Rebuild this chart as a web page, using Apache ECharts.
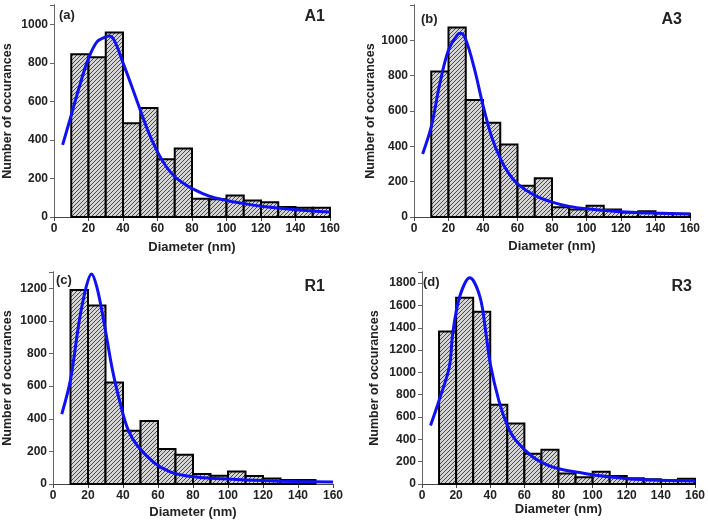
<!DOCTYPE html>
<html>
<head>
  <meta charset="UTF-8">
  <title>Diameter histograms</title>
  <script src="https://cdn.jsdelivr.net/npm/echarts@6/dist/echarts.min.js"></script>
  <style>
    body { margin: 0; padding: 0; background: #fff; }
    #main { width: 708px; height: 526px; }
  </style>
</head>
<body>
<div id="main"></div>
<script>
  // bins (left edge, nm), width 10 nm
  var binLeft = [10, 20, 30, 40, 50, 60, 70, 80, 90, 100, 110, 120, 130, 140, 150];
  var binWidth = 10;

  // counts per bin
  var countsA1 = [844, 829, 957, 486, 566, 299, 355, 95, 92, 112, 86, 76, 52, 48, 48];
  var countsA3 = [823, 1072, 662, 534, 411, 177, 219, 55, 43, 64, 43, 26, 32, 21, 19];
  var countsR1 = [1190, 1094, 623, 326, 387, 215, 180, 61, 51, 76, 49, 33, 25, 25, null];
  var countsR3 = [1367, 1669, 1543, 710, 543, 272, 307, 93, 60, 110, 72, 51, 42, 33, 48];

  // fitted curves (blue)
  var fitXA1 = [5, 10, 15, 20, 25, 30, 32, 35, 40, 45, 50, 55, 60, 65, 70, 75, 80, 90, 100, 110, 120, 140, 160];
  var fitYA1 = [374, 529, 685, 823, 910, 935, 939, 915, 800, 680, 555, 435, 338, 262, 209, 175, 148, 108, 86, 70, 56, 38, 26];
  var fitXA3 = [5, 10, 15, 20, 25, 27, 30, 35, 40, 45, 50, 55, 60, 70, 80, 90, 100, 120, 140, 160];
  var fitYA3 = [357, 511, 757, 945, 1030, 1040, 1005, 840, 632, 454, 332, 245, 188, 122, 84, 60, 47, 30, 22, 17];
  var fitXR1 = [5, 10, 15, 19, 22, 25, 29, 34, 39, 43, 48, 58, 67, 76, 86, 100, 120, 140, 160];
  var fitYR1 = [428, 640, 1000, 1210, 1288, 1210, 1000, 698, 470, 330, 238, 129, 74, 50, 39, 30, 21, 15, 12];
  var fitXR3 = [5, 10, 16, 18, 22, 28, 34, 37.5, 40, 45, 50, 55, 65, 74, 84, 94, 102, 120, 140, 160];
  var fitYR3 = [525, 749, 1048, 1347, 1675, 1848, 1675, 1347, 1078, 750, 526, 391, 242, 167, 123, 99, 78, 48, 33, 27];

  var xTicks = { min: 0, max: 160, interval: 20 };
  var yMaxes = [1100, 1200, 1300, 1900];

  var font = 'Arial, "Liberation Sans", sans-serif';

  // hatch fill for the bars
  function makeHatch() {
    var c = document.createElement('canvas');
    c.width = 4; c.height = 4;
    var ctx = c.getContext('2d');
    ctx.fillStyle = '#d4d4d4';
    ctx.fillRect(0, 0, 4, 4);
    ctx.strokeStyle = '#4a4a4a';
    ctx.lineWidth = 1;
    ctx.beginPath();
    ctx.moveTo(-1, 5); ctx.lineTo(5, -1);
    ctx.moveTo(-3, 3); ctx.lineTo(3, -3);
    ctx.moveTo(1, 7); ctx.lineTo(7, 1);
    ctx.stroke();
    return c;
  }
  var hatch = makeHatch();

  var grids = [
    { left: 54, right: 378, top: 5, bottom: 309 },
    { left: 414, right: 18, top: 5, bottom: 309 },
    { left: 52, right: 375, top: 272, bottom: 42 },
    { left: 422, right: 11, top: 272, bottom: 42 }
  ];
  var yNameGap = [40, 36, 39, 41];
  var xNameGap = [24, 23, 22, 18];

  var xAxes = [], yAxes = [], series = [];
  var axisCol = '#444';
  var counts = [countsA1, countsA3, countsR1, countsR3];
  var fitX = [fitXA1, fitXA3, fitXR1, fitXR3];
  var fitY = [fitYA1, fitYA3, fitYR1, fitYR3];

  function plain(v) { return String(v); }

  for (var g = 0; g < 4; g++) {
    // bottom + top x axes
    xAxes.push({
      type: 'value', gridIndex: g, position: 'bottom',
      min: xTicks.min, max: xTicks.max, interval: xTicks.interval,
      name: 'Diameter (nm)', nameLocation: 'middle', nameGap: xNameGap[g],
      nameTextStyle: { fontFamily: font, fontWeight: 'bold', fontSize: 13, color: '#222' },
      axisLine: { show: true, lineStyle: { color: axisCol, width: 1 } },
      axisTick: { show: true, length: 4, lineStyle: { color: axisCol } },
      axisLabel: { fontFamily: font, fontWeight: 'bold', fontSize: 12, color: '#222', margin: 6, formatter: plain },
      splitLine: { show: false }
    });
    xAxes.push({
      type: 'value', gridIndex: g, position: 'top',
      min: xTicks.min, max: xTicks.max, interval: xTicks.interval,
      axisLine: { show: true, lineStyle: { color: axisCol, width: 1 } },
      axisTick: { show: true, inside: true, length: 4, lineStyle: { color: axisCol } },
      axisLabel: { show: false },
      splitLine: { show: false }
    });
    // left + right y axes
    yAxes.push({
      type: 'value', gridIndex: g, position: 'left',
      min: 0, max: yMaxes[g], interval: 200,
      name: 'Number of occurances', nameLocation: 'middle', nameGap: yNameGap[g],
      nameTextStyle: { fontFamily: font, fontWeight: 'bold', fontSize: 12.5, color: '#222' },
      axisLine: { show: true, lineStyle: { color: axisCol, width: 1 } },
      axisTick: { show: true, length: 3, lineStyle: { color: axisCol } },
      axisLabel: { fontFamily: font, fontWeight: 'bold', fontSize: 12, color: '#222', margin: 6, showMaxLabel: false, formatter: plain },
      splitLine: { show: false }
    });
    yAxes.push({
      type: 'value', gridIndex: g, position: 'right',
      min: 0, max: yMaxes[g], interval: 200,
      axisLine: { show: true, lineStyle: { color: '#666', width: 1 } },
      axisTick: { show: true, inside: true, length: 4, lineStyle: { color: '#666' } },
      axisLabel: { show: false },
      splitLine: { show: false }
    });

    var barData = [];
    for (var i = 0; i < binLeft.length; i++) {
      if (counts[g][i] != null) barData.push([binLeft[i], binLeft[i] + binWidth, counts[g][i]]);
    }
    series.push({
      type: 'custom',
      xAxisIndex: g * 2, yAxisIndex: g * 2,
      data: barData,
      encode: { x: [0, 1], y: 2 },
      renderItem: function (params, api) {
        var p0 = api.coord([api.value(0), api.value(2)]);
        var p1 = api.coord([api.value(1), 0]);
        return {
          type: 'rect',
          shape: { x: p0[0], y: p0[1], width: p1[0] - p0[0], height: p1[1] - p0[1] },
          style: { fill: { image: hatch, repeat: 'repeat' }, stroke: '#000', lineWidth: 2 }
        };
      },
      z: 2
    });

    var lineData = [];
    for (var k = 0; k < fitX[g].length; k++) lineData.push([fitX[g][k], fitY[g][k]]);
    series.push({
      type: 'line',
      xAxisIndex: g * 2, yAxisIndex: g * 2,
      data: lineData,
      smooth: 0.35,
      symbol: 'none',
      lineStyle: { color: '#1010f5', width: 3 },
      z: 5
    });
  }

  function label(txt, pos, size) {
    var el = { type: 'text', z: 10, style: { text: txt, font: 'bold ' + size + 'px ' + font, fill: '#222' } };
    for (var key in pos) el[key] = pos[key];
    return el;
  }

  var option = {
    animation: false,
    grid: grids,
    xAxis: xAxes,
    yAxis: yAxes,
    series: series,
    graphic: [
      label('(a)', { left: 59, top: 9 }, 13),
      label('A1', { right: 383, top: 9 }, 16),
      label('(b)', { left: 421, top: 13 }, 13),
      label('A3', { right: 26, top: 12 }, 16),
      label('(c)', { left: 56, top: 274 }, 13),
      label('R1', { right: 383, top: 279 }, 16),
      label('(d)', { left: 423, top: 276 }, 13),
      label('R3', { right: 16, top: 279 }, 16)
    ]
  };

  var chart = echarts.init(document.getElementById('main'));
  chart.setOption(option);
</script>
</body>
</html>
